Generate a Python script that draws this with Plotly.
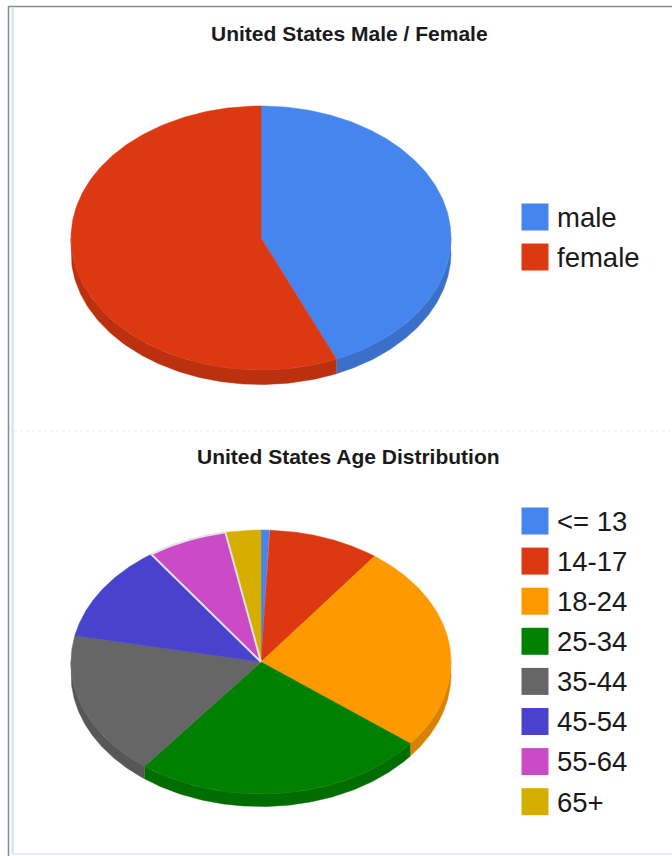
import numpy as np
import plotly.graph_objects as go

# --- data -----------------------------------------------------------------
gender_title = "United States Male / Female"
gender_labels = ["male", "female"]
gender_values = [43.5, 56.5]

age_title = "United States Age Distribution"
age_labels = ["<= 13", "14-17", "18-24", "25-34", "35-44", "45-54", "55-64", "65+"]
age_values = [0.7, 9.5, 25.4, 24.9, 17.7, 12.0, 6.8, 3.0]

face_colors = ["#4684EE", "#DC3912", "#FF9900", "#008000", "#666666", "#4942CC", "#CB4AC5", "#D6AE00"]
wall_colors = ["#3B70CA", "#BB300F", "#D98200", "#006D00", "#575757", "#3E38AD", "#AC3FA7", "#B69400"]

W, H = 672, 856
RX, RY = 190, 132
FONT = "Liberation Sans"


def edge(theta, cx, cy, dy=0.0):
    """Point on the pie's ellipse; theta in radians clockwise from 12 o'clock."""
    return cx + RX * np.sin(theta), cy - RY * np.cos(theta) + dy


def add_pie(fig, labels, values, cx, cy, depth, title, title_x, title_y,
            leg_x, leg_y0, leg_step, light_edges=()):
    total = float(sum(values))
    stops = np.concatenate([[0], np.cumsum(values)]) / total * 2 * np.pi
    # side walls (only the front half of the rim is visible)
    for i, lab in enumerate(labels):
        a, b = max(stops[i], np.pi / 2), min(stops[i + 1], 3 * np.pi / 2)
        if b <= a:
            continue
        t = np.linspace(a, b, 120)
        x1, y1 = edge(t, cx, cy)
        x2, y2 = edge(t[::-1], cx, cy, depth)
        fig.add_trace(go.Scatter(
            x=np.concatenate([x1, x2]), y=np.concatenate([y1, y2]),
            mode="lines", fill="toself", fillcolor=wall_colors[i],
            line=dict(color=wall_colors[i], width=0.5),
            hoverinfo="skip", showlegend=False))
    # top faces; slices with a light outline go last so the outline stays visible
    order = [i for i in range(len(labels)) if i not in light_edges] + list(light_edges)
    for i in order:
        lab = labels[i]
        t = np.linspace(stops[i], stops[i + 1], 200)
        xa, ya = edge(t, cx, cy)
        light = i in light_edges
        fig.add_trace(go.Scatter(
            x=np.concatenate([[cx], xa, [cx]]), y=np.concatenate([[cy], ya, [cy]]),
            mode="lines", fill="toself", fillcolor=face_colors[i],
            line=dict(color="#E2E2E2" if light else face_colors[i], width=2 if light else 0.5),
            name=lab, text=f"{lab}: {values[i]}%", hoverinfo="text", showlegend=False))
    # legend keys and labels
    ys = [leg_y0 + k * leg_step for k in range(len(labels))]
    fig.add_trace(go.Scatter(
        x=[leg_x] * len(labels), y=ys, mode="markers",
        marker=dict(symbol="square", size=27, color=face_colors[:len(labels)],
                    line=dict(width=0)),
        hoverinfo="skip", showlegend=False))
    fig.add_trace(go.Scatter(
        x=[leg_x + 22] * len(labels), y=[v + 3 for v in ys], mode="text", text=labels,
        textposition="middle right",
        textfont=dict(family=FONT, size=27.5, color="#1A1A1A"),
        hoverinfo="skip", showlegend=False))
    fig.add_annotation(x=title_x, y=title_y, xref="x", yref="y", text=f"<b>{title}</b>",
                       showarrow=False, font=dict(family=FONT, size=21, color="#1A1A1A"))


fig = go.Figure()
add_pie(fig, gender_labels, gender_values, 261, 238, 14.5, gender_title, 349, 33, 535, 217, 40)
add_pie(fig, age_labels, age_values, 261, 662, 12.5, age_title, 348, 456, 535, 521, 40.1, light_edges=(6,))

frame = [
    dict(x0=8.5, y0=6, x1=8.5, y1=856, color="#8A8A8A", width=1.5, dash="solid"),
    dict(x0=8.5, y0=6.5, x1=672, y1=6.5, color="#8A8A8A", width=1.5, dash="solid"),
    dict(x0=12.5, y0=8, x1=12.5, y1=853, color="#CFE0EA", width=2, dash="solid"),
    dict(x0=12, y0=854, x1=672, y1=854, color="#DCE8EE", width=1.5, dash="solid"),
    dict(x0=14, y0=431, x1=672, y1=431, color="#EEEEEE", width=1, dash="dot"),
]
for s in frame:
    fig.add_shape(type="line", x0=s["x0"], y0=s["y0"], x1=s["x1"], y1=s["y1"],
                  xref="x", yref="y", layer="below",
                  line=dict(color=s["color"], width=s["width"], dash=s["dash"]))

fig.update_layout(
    width=W, height=H, margin=dict(l=0, r=0, t=0, b=0),
    paper_bgcolor="white", plot_bgcolor="white", showlegend=False,
    xaxis=dict(range=[0, W], visible=False, fixedrange=True),
    yaxis=dict(range=[H, 0], visible=False, fixedrange=True),
)
fig.write_html("out.html", config={"displayModeBar": False},
               default_width=f"{W}px", default_height=f"{H}px",
               post_script="document.body.style.margin='0';document.documentElement.style.overflow='hidden';")
